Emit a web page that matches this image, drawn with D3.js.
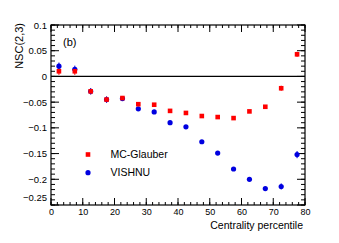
<!DOCTYPE html>
<html>
<head>
<meta charset="utf-8">
<script src="https://cdn.jsdelivr.net/npm/d3@7"></script>
<style>
  body { margin: 0; background: #fff; }
  svg text { font-family: "Liberation Sans", Arial, sans-serif; }
</style>
</head>
<body>
<div id="chart"></div>
<script>
// NSC(2,3) vs centrality

var centrality = [2.5, 7.5, 12.5, 17.5, 22.5, 27.5, 32.5, 37.5, 42.5, 47.5, 52.5, 57.5, 62.5, 67.5, 72.5, 77.5];
var glauber = [0.010, 0.010, -0.029, -0.045, -0.042, -0.054, -0.055, -0.067, -0.071, -0.077, -0.079, -0.081, -0.068, -0.059, -0.023, 0.043];
var glauberErr = [0.007, 0.007, 0.006, 0.006, 0.004, 0.002, 0.002, 0.002, 0.002, 0.002, 0.002, 0.002, 0.002, 0.002, 0.005, 0.005];
var vishnu = [0.020, 0.014, -0.029, -0.045, -0.043, -0.063, -0.069, -0.090, -0.098, -0.127, -0.149, -0.180, -0.200, -0.218, -0.214, -0.152];
var vishnuErr = [0.007, 0.007, 0.006, 0.006, 0.004, 0.002, 0.002, 0.002, 0.002, 0.002, 0.002, 0.002, 0.002, 0.003, 0.006, 0.007];
var seriesNames = ["MC-Glauber", "VISHNU"];

var svgWidth = 339;
var svgHeight = 243;
var margin = { top: 25, right: 34, bottom: 38, left: 51 };
var width = svgWidth - margin.left - margin.right;
var height = svgHeight - margin.top - margin.bottom;

var svg = d3.select("#chart")
  .append("svg")
  .attr("width", svgWidth)
  .attr("height", svgHeight);

var chartGroup = svg.append("g")
  .attr("transform", `translate(${margin.left},${margin.top})`);

var x = d3.scaleLinear().domain([0, 80]).range([0, width]);
var y = d3.scaleLinear().domain([-0.25, 0.1]).range([height, 0]);

var red = "#ff0000";
var blue = "#0000e0";

// minor ticks first (inside the frame, ROOT style)
var xMinor = d3.range(0, 80.1, 2);
var yMinor = d3.range(-0.25, 0.1001, 0.01);

function axisLines(g, scale, vals, len, orient) {
  vals.forEach(v => {
    var p = scale(v);
    if (orient === "bottom") g.append("line").attr("x1", p).attr("x2", p).attr("y1", height).attr("y2", height - len);
    if (orient === "top") g.append("line").attr("x1", p).attr("x2", p).attr("y1", 0).attr("y2", len);
    if (orient === "left") g.append("line").attr("y1", p).attr("y2", p).attr("x1", 0).attr("x2", len);
    if (orient === "right") g.append("line").attr("y1", p).attr("y2", p).attr("x1", width).attr("x2", width - len);
  });
}

var ticks = chartGroup.append("g").attr("stroke", "#000").attr("stroke-width", 1);
axisLines(ticks, x, xMinor, 3, "bottom");
axisLines(ticks, x, xMinor, 3, "top");
axisLines(ticks, x, d3.range(0, 81, 10), 7, "bottom");
axisLines(ticks, x, d3.range(0, 81, 10), 7, "top");
axisLines(ticks, y, yMinor, 4, "left");
axisLines(ticks, y, yMinor, 4, "right");
axisLines(ticks, y, d3.range(-0.25, 0.1001, 0.05), 8, "left");
axisLines(ticks, y, d3.range(-0.25, 0.1001, 0.05), 8, "right");

// frame
chartGroup.append("rect")
  .attr("width", width)
  .attr("height", height)
  .attr("fill", "none")
  .attr("stroke", "#000")
  .attr("stroke-width", 1.2);

// tick labels via d3 axes, tick lines hidden
var bottomAxis = d3.axisBottom(x).tickValues(d3.range(0, 81, 10)).tickSize(0).tickPadding(4);
var xAxis = chartGroup.append("g")
  .attr("transform", `translate(0,${height})`)
  .call(bottomAxis);
xAxis.select(".domain").remove();
xAxis.selectAll("text").style("font-size", "9px").attr("fill", "#000");

var yTicks = [-0.25, -0.2, -0.15, -0.1, -0.05, 0, 0.05, 0.1];
var leftAxis = d3.axisLeft(y).tickValues(yTicks).tickSize(0).tickPadding(4)
  .tickFormat(d => d === 0 ? "0" : d3.format("")(+d.toFixed(2)));
var yAxis = chartGroup.append("g").call(leftAxis);
yAxis.select(".domain").remove();
yAxis.selectAll("text").style("font-size", "9.5px").attr("fill", "#000")
  .attr("dy", d => d === -0.25 ? "-0.5em" : "0.32em");

// zero line
chartGroup.append("line")
  .attr("x1", 0).attr("x2", width)
  .attr("y1", y(0)).attr("y2", y(0))
  .attr("stroke", "#000").attr("stroke-width", 1.2);

// axis titles
svg.append("text")
  .attr("x", margin.left + width - 2)
  .attr("y", 229)
  .attr("text-anchor", "end")
  .style("font-size", "10.5px")
  .text("Centrality percentile");

svg.append("text")
  .attr("transform", "rotate(-90)")
  .attr("x", -23)
  .attr("y", 23)
  .attr("text-anchor", "end")
  .style("font-size", "11px")
  .text("NSC(2,3)");

chartGroup.append("text")
  .attr("x", 12)
  .attr("y", 21)
  .style("font-size", "11px")
  .text("(b)");

// error bars
function errorBars(vals, errs, color) {
  chartGroup.append("g").selectAll("line")
    .data(centrality)
    .enter()
    .append("line")
    .attr("x1", d => x(d)).attr("x2", d => x(d))
    .attr("y1", (d, i) => y(vals[i] - errs[i]))
    .attr("y2", (d, i) => y(vals[i] + errs[i]))
    .attr("stroke", color)
    .attr("stroke-width", 1);
}
errorBars(glauber, glauberErr, red);
errorBars(vishnu, vishnuErr, blue);

// VISHNU circles
chartGroup.append("g").selectAll("circle")
  .data(centrality)
  .enter()
  .append("circle")
  .attr("cx", d => x(d))
  .attr("cy", (d, i) => y(vishnu[i]))
  .attr("r", 2.6)
  .attr("fill", blue);

// MC-Glauber squares
chartGroup.append("g").selectAll("rect")
  .data(centrality)
  .enter()
  .append("rect")
  .attr("x", d => x(d) - 2.3)
  .attr("y", (d, i) => y(glauber[i]) - 2.3)
  .attr("width", 4.6)
  .attr("height", 4.6)
  .attr("fill", red);

// legend
var legend = svg.append("g");
legend.append("rect")
  .attr("x", 88 - 2.3).attr("y", 154.5 - 2.3)
  .attr("width", 4.6).attr("height", 4.6)
  .attr("fill", red);
legend.append("circle")
  .attr("cx", 88).attr("cy", 172.7).attr("r", 2.6)
  .attr("fill", blue);
legend.selectAll("text")
  .data(seriesNames)
  .enter()
  .append("text")
  .attr("x", 110.5)
  .attr("y", (d, i) => 158 + i * 18.3)
  .style("font-size", "10.5px")
  .text(d => d);
</script>
</body>
</html>
